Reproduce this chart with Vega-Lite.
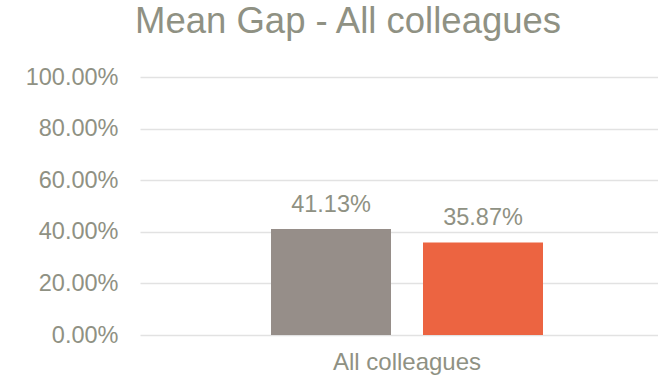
{
  "$schema": "https://vega.github.io/schema/vega-lite/v6.json",
  "autosize": "none",
  "padding": {"left": 140, "top": 77, "right": 0, "bottom": 42},
  "width": 534,
  "height": 258,
  "background": "white",
  "title": {
    "text": "Mean Gap - All colleagues",
    "anchor": "start",
    "frame": "group",
    "dx": -5,
    "baseline": "alphabetic",
    "offset": -4,
    "font": "Liberation Sans",
    "fontSize": 36.5,
    "fontWeight": "normal",
    "color": "#8f9183"
  },
  "data": {
    "values": [
      {"category": "All colleagues", "series": "Bar 1", "value": 0.4113},
      {"category": "All colleagues", "series": "Bar 2", "value": 0.3587}
    ]
  },
  "encoding": {
    "x": {
      "field": "category",
      "type": "nominal",
      "scale": {"paddingInner": 0, "paddingOuter": 0.4816},
      "axis": {
        "title": null,
        "labelAngle": 0,
        "domain": false,
        "ticks": false,
        "labelFont": "Liberation Sans",
        "labelFontSize": 24,
        "labelColor": "#8f9183",
        "labelBaseline": "alphabetic",
        "labelPadding": 34
      }
    },
    "xOffset": {
      "field": "series",
      "type": "nominal",
      "scale": {"paddingInner": 0.2105, "paddingOuter": 0}
    },
    "y": {
      "field": "value",
      "type": "quantitative",
      "scale": {"domain": [0, 1]},
      "axis": {
        "title": null,
        "values": [0, 0.2, 0.4, 0.6, 0.8, 1],
        "format": ".2%",
        "domain": false,
        "ticks": false,
        "labelFont": "Liberation Sans",
        "labelFontSize": 23.5,
        "labelColor": "#8f9183",
        "labelPadding": 22,
        "gridColor": "#e2e2e2",
        "gridWidth": 1.5
      }
    }
  },
  "layer": [
    {
      "mark": {"type": "bar"},
      "encoding": {
        "color": {
          "field": "series",
          "type": "nominal",
          "scale": {"domain": ["Bar 1", "Bar 2"], "range": ["#968e89", "#ec6441"]},
          "legend": null
        }
      }
    },
    {
      "mark": {
        "type": "text",
        "baseline": "alphabetic",
        "dy": -17,
        "font": "Liberation Sans",
        "fontSize": 23.5,
        "color": "#8f9183"
      },
      "encoding": {
        "text": {"field": "value", "type": "quantitative", "format": ".2%"}
      }
    }
  ],
  "config": {"view": {"stroke": null}}
}
